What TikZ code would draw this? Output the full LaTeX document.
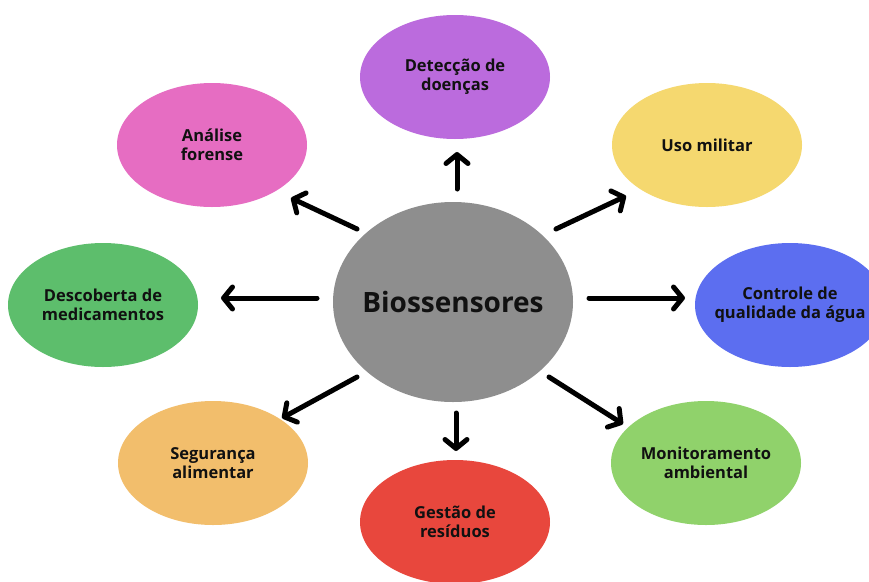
\documentclass[tikz,border=0pt]{standalone}
\usepackage{fontspec}
\setmainfont{Open Sans}
\usetikzlibrary{shapes.geometric,arrows.meta}
\definecolor{cgrey}{HTML}{8E8E8E}
\definecolor{cpurple}{HTML}{BB6BDD}
\definecolor{cpink}{HTML}{E66DC2}
\definecolor{cyellow}{HTML}{F5D86F}
\definecolor{cgreen}{HTML}{5DBE6C}
\definecolor{cblue}{HTML}{5C6EF0}
\definecolor{corange}{HTML}{F2BE6C}
\definecolor{cred}{HTML}{E8473D}
\definecolor{clgreen}{HTML}{90D26B}
\definecolor{ctext}{HTML}{111111}
\tikzset{
  bubble/.style={ellipse, inner sep=0pt, minimum width=190pt, minimum height=124pt},
  btext/.style={align=center, inner sep=0pt, text=ctext, font=\bfseries\fontsize{16.5}{19}\selectfont},
  hub/.style={ellipse, inner sep=0pt, fill=cgrey, minimum width=240pt, minimum height=200pt},
  htext/.style={inner sep=0pt, text=ctext, font=\bfseries\fontsize{28}{32}\selectfont},
  arr/.style={line width=5pt, draw=black, line cap=round,
    -{Straight Barb[length=9pt,width=22pt,line cap=round,line join=round]}}
}
\begin{document}
\begin{tikzpicture}[x=1pt,y=-1pt]
\useasboundingbox (0,0) rectangle (869,581);
\fill[white] (0,0) rectangle (869,581);
\clip (0,0) rectangle (869,581);
\node[hub, label={[htext]center:Biossensores}] (c) at (453,302) {};
\node[bubble, fill=cpurple, label={[btext]center:{Detecção de\\doenças}}] (det) at (455,77) {};
\node[bubble, fill=cpink, label={[btext]center:{Análise\\forense}}] (ana) at (212,145) {};
\node[bubble, fill=cyellow, label={[btext]center:{Uso militar}}] (uso) at (707,145) {};
\node[bubble, fill=cgreen, label={[btext]center:{Descoberta de\\medicamentos}}] (des) at (103,305) {};
\node[bubble, fill=cblue, label={[btext]center:{Controle de\\qualidade da água}}] (con) at (790,305) {};
\node[bubble, fill=corange, label={[btext]center:{Segurança\\alimentar}}] (seg) at (213,463) {};
\node[bubble, fill=cred, label={[btext]center:{Gestão de\\resíduos}}] (ges) at (455,522) {};
\node[bubble, fill=clgreen, label={[btext]center:{Monitoramento\\ambiental}}] (mon) at (706,463) {};
% arrow ends
\coordinate (u1) at (457,189); \coordinate (u2) at (457,152);
\coordinate (d1) at (456,413); \coordinate (d2) at (456,451);
\coordinate (l1) at (317,298); \coordinate (l2) at (221,298);
\coordinate (r1) at (589,298); \coordinate (r2) at (685,298);
\coordinate (ul1) at (357,229); \coordinate (ul2) at (291,198);
\coordinate (ur1) at (556,229); \coordinate (ur2) at (626,196);
\coordinate (dl1) at (357,377); \coordinate (dl2) at (282,418);
\coordinate (dr1) at (549,377); \coordinate (dr2) at (623,424);
\draw[arr] (u1) -- (u2);
\draw[arr] (d1) -- (d2);
\draw[arr] (l1) -- (l2);
\draw[arr] (r1) -- (r2);
\draw[arr] (ul1) -- (ul2);
\draw[arr] (ur1) -- (ur2);
\draw[arr] (dl1) -- (dl2);
\draw[arr] (dr1) -- (dr2);
\end{tikzpicture}
\end{document}
